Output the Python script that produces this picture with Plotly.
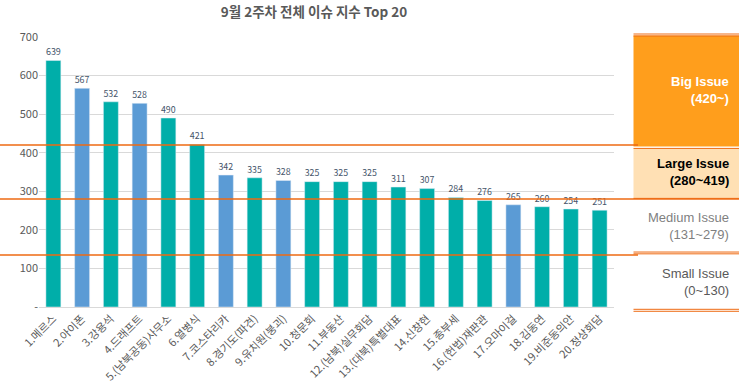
import plotly.graph_objects as go

categories = ["1.메르스", "2.아이폰", "3.강용석", "4.드래프트", "5.(남북공동)사무소",
              "6.열병식", "7.코스타리카", "8.경기도(파견)", "9.유치원(붕괴)", "10.청문회",
              "11.부동산", "12.(남북)실무회담", "13.(대북)특별대표", "14.신창현", "15.종부세",
              "16.(헌법)재판관", "17.오마이걸", "18.김동연", "19.비준동의안", "20.정상회담"]
values = [639, 567, 532, 528, 490, 421, 342, 335, 328, 325,
          325, 325, 311, 307, 284, 276, 265, 260, 254, 251]
groups = ["A", "B", "A", "B", "A", "A", "B", "A", "B", "A",
          "A", "A", "A", "A", "A", "A", "B", "A", "A", "A"]
thresholds = [420, 280, 135]
tick_vals = [0, 100, 200, 300, 400, 500, 600, 700]
tick_text = ["-", "100", "200", "300", "400", "500", "600", "700"]
panel_labels = [("Big Issue", "(420~)"), ("Large Issue", "(280~419)"),
                ("Medium Issue", "(131~279)"), ("Small Issue", "(0~130)")]

TEAL = "#00AEA9"
BLUE = "#5B9BD5"
ORANGE_LINE = "#EE6A12"
W, H = 748, 387
L, R, T, B = 39, 134, 36.5, 80.3
PW, PH = W - L - R, H - T - B
YMAX = 700


def px(x):
    return (x - L) / PW


def py(y):
    return (H - B - y) / PH


colors = [TEAL if g == "A" else BLUE for g in groups]

fig = go.Figure(go.Bar(
    x=categories, y=values, marker_color=colors, width=0.52,
    text=[str(v) for v in values], textposition="outside",
    textfont=dict(size=12, color="#44546A", family="Noto Sans CJK KR"),
    cliponaxis=False,
))

shapes = []
for v in thresholds:
    x1 = 739 if v == 280 else 638
    yp = v / YMAX
    shapes.append(dict(type="line", xref="paper", yref="paper", x0=px(0), x1=px(x1),
                       y0=yp, y1=yp, line=dict(color=ORANGE_LINE, width=1.5)))

PX0, PX1 = 633.5, 739
shapes.append(dict(type="rect", xref="paper", yref="paper", x0=px(PX0), x1=px(PX1),
                   y0=py(146), y1=py(35), fillcolor="#FF9E1C", line=dict(width=0), layer="below"))
shapes.append(dict(type="rect", xref="paper", yref="paper", x0=px(PX0), x1=px(PX1),
                   y0=py(198), y1=py(148), fillcolor="#FFE0B4", line=dict(width=0), layer="below"))
for yy in [33.5, 35.5, 148, 198, 251.7, 253.5, 309, 311]:
    shapes.append(dict(type="line", xref="paper", yref="paper", x0=px(PX0), x1=px(PX1),
                       y0=py(yy), y1=py(yy), line=dict(color=ORANGE_LINE, width=1)))

annotations = []
label_y = [90, 172, 226, 282]
styles = [("white", True), ("black", True), ("#7F7F7F", False), ("#595959", False)]
for (t1, t2), yy, (c, bold) in zip(panel_labels, label_y, styles):
    txt = f"<b>{t1}<br>{t2}</b>" if bold else f"{t1}<br>{t2}"
    annotations.append(dict(
        text=txt, xref="paper", yref="paper", align="right",
        x=px(731), y=py(yy), xanchor="right", yanchor="middle", showarrow=False,
        font=dict(size=13, color=c, family="Liberation Sans")))

fig.update_layout(
    width=W, height=H,
    margin=dict(l=L, r=R, t=T, b=B),
    paper_bgcolor="white", plot_bgcolor="white",
    title=dict(text="<b>9월 2주차 전체 이슈 지수 Top 20</b>", x=314 / W, xanchor="center",
               y=1 - 12 / H, yanchor="middle",
               font=dict(size=13.5, color="#595959", family="Noto Sans CJK KR")),
    xaxis=dict(tickangle=-45, automargin=False,
               tickfont=dict(size=11, color="#595959", family="Noto Sans CJK KR"),
               showgrid=False, showline=True, linecolor="#D9D9D9", ticks=""),
    yaxis=dict(range=[0, YMAX], tickvals=tick_vals, ticktext=tick_text, automargin=False,
               tickfont=dict(size=11, color="#595959", family="Noto Sans CJK KR"),
               gridcolor="#D9D9D9", zeroline=False, showline=False),
    shapes=shapes, annotations=annotations,
    showlegend=False, bargap=0.48,
)

fig.write_html("out.html", post_script="document.body.style.margin='0';",
               config={"displayModeBar": False})
